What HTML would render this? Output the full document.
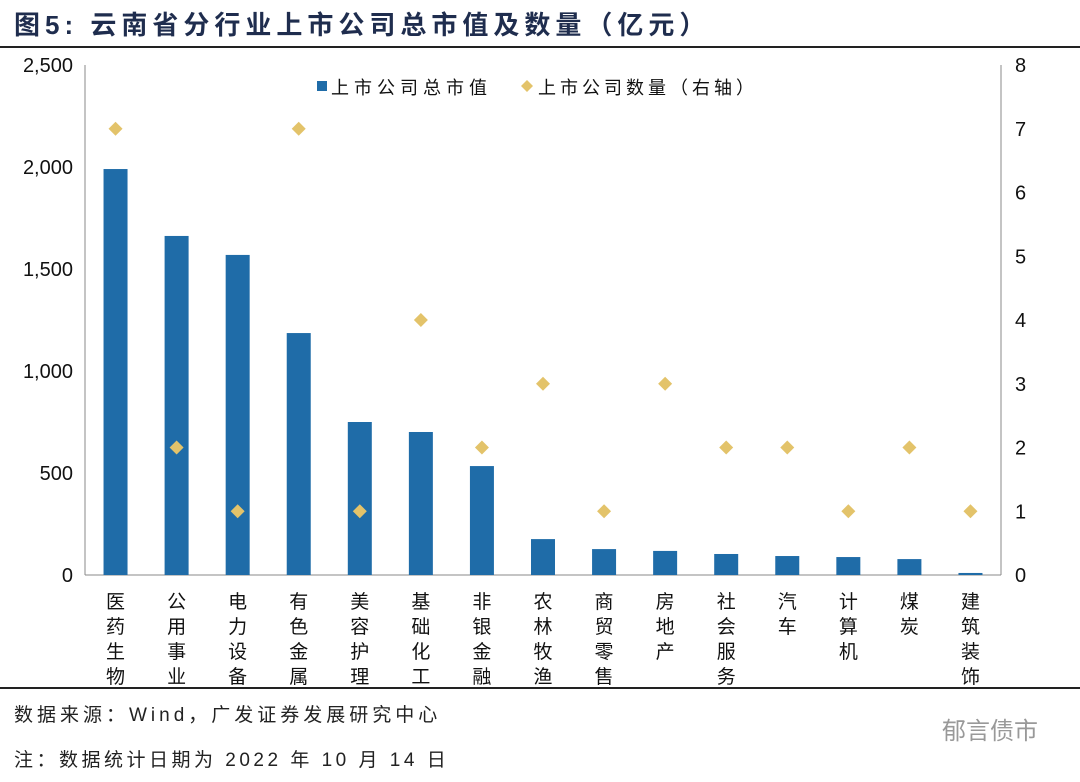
<!DOCTYPE html>
<html><head><meta charset="utf-8">
<style>
body{margin:0;background:#fff;width:1080px;height:777px;overflow:hidden;font-family:"Liberation Sans","Noto Sans CJK SC",sans-serif;}
svg text{font-family:"Liberation Sans","Noto Sans CJK SC",sans-serif;}
</style></head>
<body>
<svg id="chart" width="1080" height="777">
<text x="14" y="34" font-size="26" font-weight="bold" fill="#1f2d4e" letter-spacing="5">图5:  云南省分行业上市公司总市值及数量（亿元）</text>
<line x1="0" y1="47" x2="1080" y2="47" stroke="#222" stroke-width="2"/>
<line x1="0" y1="688" x2="1080" y2="688" stroke="#222" stroke-width="2"/>
<text x="14" y="721" font-size="19" fill="#222" letter-spacing="4">数据来源：Wind，广发证券发展研究中心</text>
<text x="14" y="766" font-size="19" fill="#222" letter-spacing="3.5">注：数据统计日期为 2022 年 10 月 14 日</text>
<text x="942" y="739" font-size="24" fill="#999">郁言债市</text>
<g id="plot"></g>
</svg>
<script>
const categories=["医药生物","公用事业","电力设备","有色金属","美容护理","基础化工","非银金融","农林牧渔","商贸零售","房地产","社会服务","汽车","计算机","煤炭","建筑装饰"];
const marketCap=[1990,1662,1569,1186,750,701,534,176,127,118,103,93,88,78,10];
const counts=[7,2,1,7,1,4,2,3,1,3,2,2,1,2,1];
const leftTicks=[0,500,1000,1500,2000,2500];
const leftLabels=["0","500","1,000","1,500","2,000","2,500"];
const rightTicks=[0,1,2,3,4,5,6,7,8];

const NS="http://www.w3.org/2000/svg";
const g=document.getElementById('plot');
const X0=85,X1=1001,Y0=575,Y1=65;
const yL=v=>Y0-(v/2500)*(Y0-Y1);
const yR=v=>Y0-(v/8)*(Y0-Y1);
const step=(X1-X0)/categories.length;
const xC=i=>X0+step*(i+0.5);
function mk(tag,attrs){const e=document.createElementNS(NS,tag);for(const k in attrs)e.setAttribute(k,attrs[k]);g.appendChild(e);return e;}

let e=mk('line',{x1:X0,y1:Y1,x2:X0,y2:Y0,stroke:'#888'});


e=mk('line',{x1:X1,y1:Y1,x2:X1,y2:Y0,stroke:'#888'});


e=mk('line',{x1:X0,y1:Y0,x2:X1,y2:Y0,stroke:'#888'});



leftTicks.forEach((v,i)=>{
 const l=mk('text',{x:X0-12,y:yL(v)+7,'text-anchor':'end','font-size':20,fill:'#111'});
 l.textContent=leftLabels[i];
 
 
});
rightTicks.forEach(v=>{
 const l=mk('text',{x:X1+14,y:yR(v)+7,'font-size':20,fill:'#111'});
 l.textContent=String(v);
 
 
});
categories.forEach((c,i)=>{
 const b=mk('rect',{x:xC(i)-12,y:yL(marketCap[i]),width:24,height:Y0-yL(marketCap[i]),fill:'#1f6ca8'});
 
 
 const cy=yR(counts[i]);
 const d=mk('polygon',{points:`${xC(i)},${cy-7} ${xC(i)+7},${cy} ${xC(i)},${cy+7} ${xC(i)-7},${cy}`,fill:'#e3c36a'});
 
 
 const l=mk('text',{'font-size':19,fill:'#111','text-anchor':'middle'});
 
 
 [...c].forEach((ch,k)=>{const s=document.createElementNS(NS,'tspan');s.setAttribute('x',xC(i));s.setAttribute('y',608+k*25);s.textContent=ch;l.appendChild(s);});
});
// legend
e=mk('rect',{x:317,y:81,width:10,height:10,fill:'#1f6ca8'});


e=mk('text',{x:331,y:94,'font-size':18,fill:'#111','letter-spacing':5});e.textContent='上市公司总市值';


e=mk('polygon',{points:'527,80 533,86 527,92 521,86',fill:'#e3c36a'});


e=mk('text',{x:538,y:94,'font-size':18,fill:'#111','letter-spacing':4});e.textContent='上市公司数量（右轴）';


</script>
</body></html>
